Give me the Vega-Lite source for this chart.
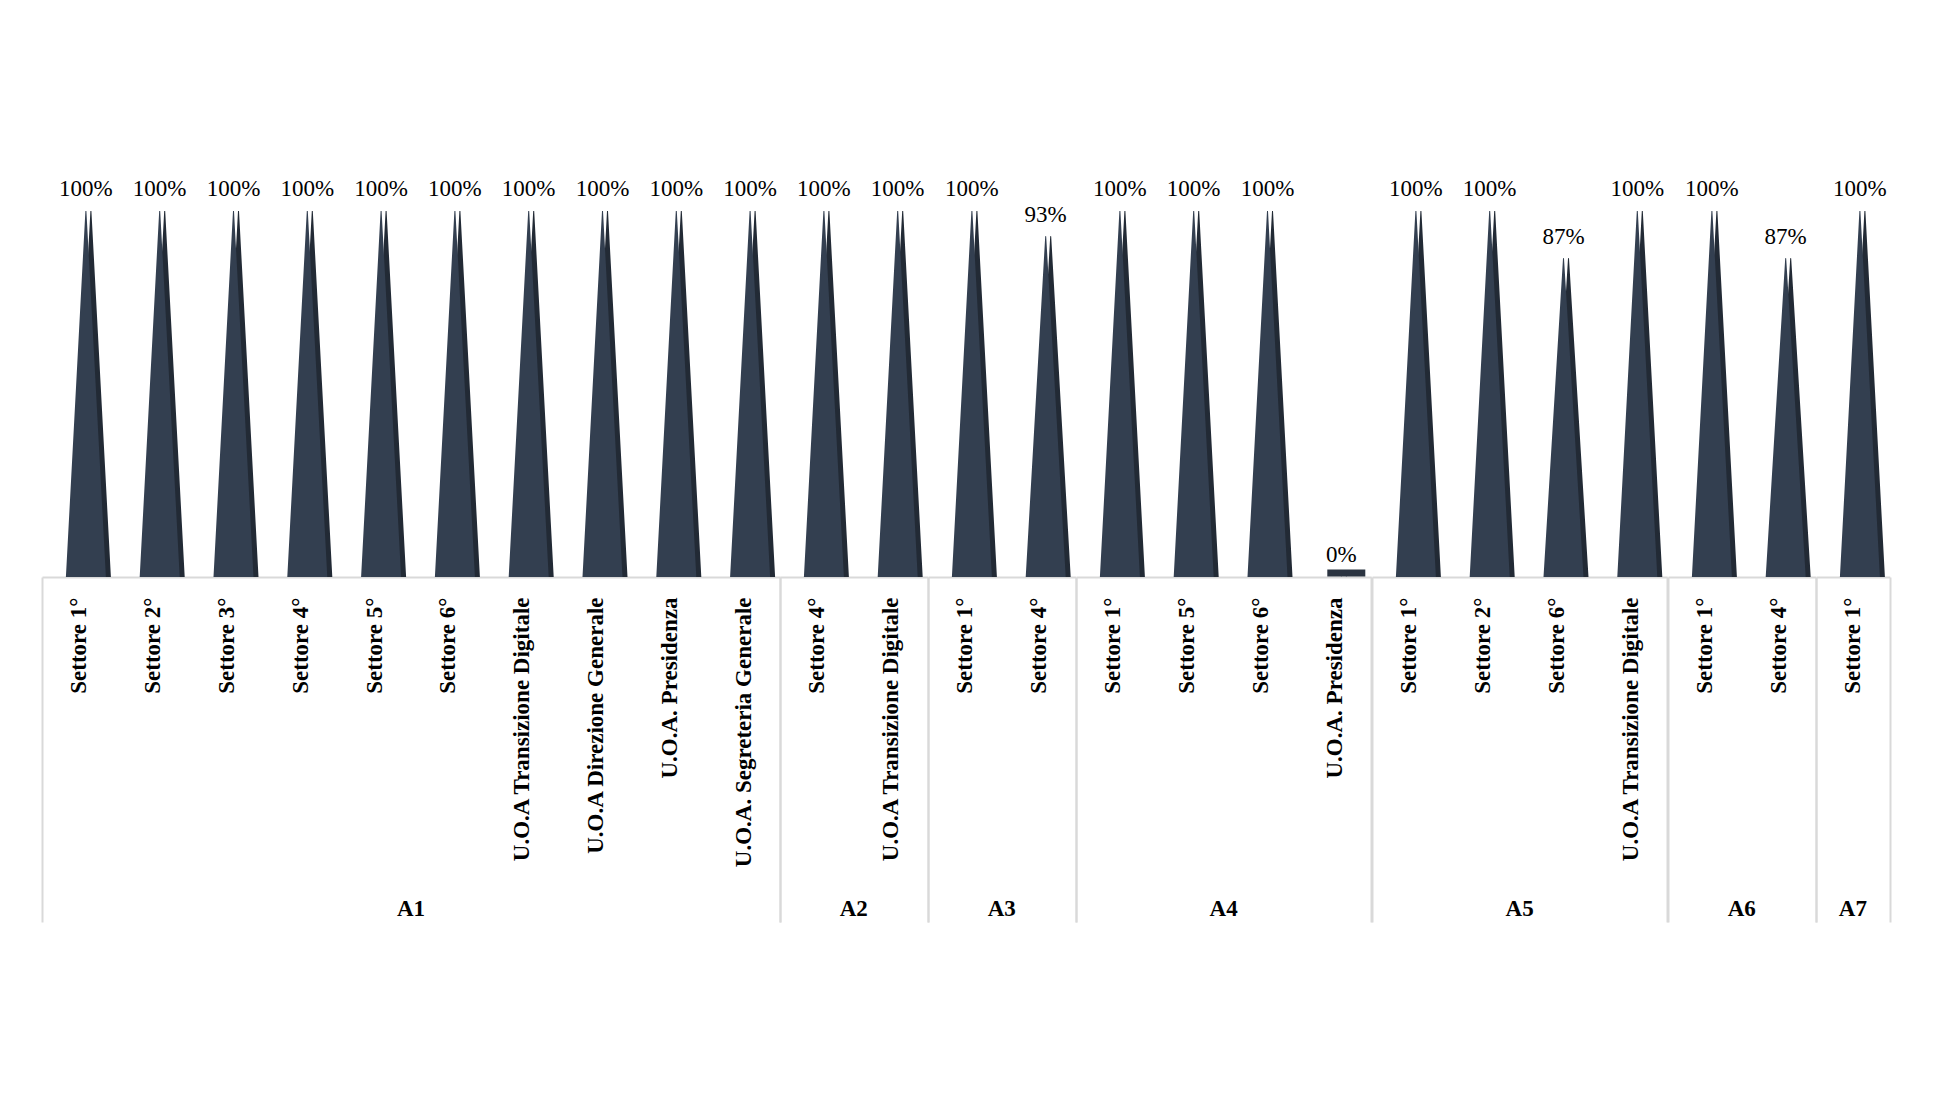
{
  "$schema": "https://vega.github.io/schema/vega-lite/v6.json",
  "background": "white",
  "padding": {"left": 31, "top": 178, "right": 10, "bottom": 10},
  "bounds": "flush",
  "spacing": 0,
  "data": {"values": [
    {"area": "A1", "unit": "Settore 1°", "value": 1},
    {"area": "A1", "unit": "Settore 2°", "value": 1},
    {"area": "A1", "unit": "Settore 3°", "value": 1},
    {"area": "A1", "unit": "Settore 4°", "value": 1},
    {"area": "A1", "unit": "Settore 5°", "value": 1},
    {"area": "A1", "unit": "Settore 6°", "value": 1},
    {"area": "A1", "unit": "U.O.A  Transizione Digitale", "value": 1},
    {"area": "A1", "unit": "U.O.A Direzione Generale", "value": 1},
    {"area": "A1", "unit": "U.O.A. Presidenza", "value": 1},
    {"area": "A1", "unit": "U.O.A. Segreteria Generale", "value": 1},
    {"area": "A2", "unit": "Settore 4°", "value": 1},
    {"area": "A2", "unit": "U.O.A  Transizione Digitale", "value": 1},
    {"area": "A3", "unit": "Settore 1°", "value": 1},
    {"area": "A3", "unit": "Settore 4°", "value": 0.93},
    {"area": "A4", "unit": "Settore 1°", "value": 1},
    {"area": "A4", "unit": "Settore 5°", "value": 1},
    {"area": "A4", "unit": "Settore 6°", "value": 1},
    {"area": "A4", "unit": "U.O.A. Presidenza", "value": 0},
    {"area": "A5", "unit": "Settore 1°", "value": 1},
    {"area": "A5", "unit": "Settore 2°", "value": 1},
    {"area": "A5", "unit": "Settore 6°", "value": 0.87},
    {"area": "A5", "unit": "U.O.A  Transizione Digitale", "value": 1},
    {"area": "A6", "unit": "Settore 1°", "value": 1},
    {"area": "A6", "unit": "Settore 4°", "value": 0.87},
    {"area": "A7", "unit": "Settore 1°", "value": 1}
  ]},
  "transform": [
    {"joinaggregate": [{"op": "min", "field": "value", "as": "base"}]}
  ],
  "facet": {
    "column": {
      "field": "area", "type": "nominal", "title": null,
      "header": {
        "labelOrient": "bottom",
        "labelAngle": 0,
        "labelAlign": "center",
        "labelAnchor": "middle",
        "labelBaseline": "middle",
        "labelFont": "Liberation Serif",
        "labelFontWeight": "bold",
        "labelFontSize": 23,
        "labelColor": "black",
        "labelPadding": 332
      }
    }
  },
  "resolve": {"scale": {"x": "independent"}, "axis": {"x": "independent"}},
  "spec": {
    "width": {"step": 73.8},
    "height": 366,
    "encoding": {
      "x": {
        "field": "unit", "type": "nominal",
        "scale": {"paddingInner": 0, "paddingOuter": 0},
        "axis": {
          "title": null,
          "tickBand": "extent",
          "tickSize": 345,
          "tickWidth": 2,
          "tickColor": "#d9d9d9",
          "tickOpacity": {"condition": {"test": "datum.index < 0 || datum.index == 1 || length(domain('child_x')) == 1", "value": 1}, "value": 0},
          "domainColor": "#d9d9d9",
          "domainWidth": 2,
          "labelAngle": -90,
          "labelAlign": "right",
          "labelBaseline": "middle",
          "labelFont": "Liberation Serif",
          "labelFontWeight": "bold",
          "labelFontSize": 23,
          "labelColor": "black",
          "labelPadding": -325,
          "labelLimit": 400
        }
      }
    },
    "layer": [
      {
        "transform": [{"fold": ["base", "value"], "as": ["part", "level"]}],
        "mark": {"type": "trail", "clip": true, "xOffset": 12, "color": "#222a35", "opacity": 1},
        "encoding": {
          "y": {"field": "level", "type": "quantitative", "scale": {"domain": [0, 1]}, "axis": null},
          "size": {"field": "part", "type": "ordinal", "scale": {"type": "ordinal", "domain": ["base", "value"], "range": [40, 0]}, "legend": null},
          "detail": {"field": "unit"}
        }
      },
      {
        "transform": [{"fold": ["base", "value"], "as": ["part", "level"]}],
        "mark": {"type": "trail", "clip": true, "xOffset": 7, "color": "#333f50", "opacity": 1},
        "encoding": {
          "y": {"field": "level", "type": "quantitative", "scale": {"domain": [0, 1]}, "axis": null},
          "size": {"field": "part", "type": "ordinal", "scale": {"type": "ordinal", "domain": ["base", "value"], "range": [30, 0]}, "legend": null},
          "detail": {"field": "unit"}
        }
      },
      {
        "transform": [{"filter": "datum.value == 0"}],
        "mark": {"type": "tick", "color": "#2b3441", "opacity": 1, "thickness": 7, "size": 38, "xOffset": 12, "yOffset": -4},
        "encoding": {
          "y": {"field": "value", "type": "quantitative", "scale": {"domain": [0, 1]}, "axis": null}
        }
      },
      {
        "mark": {"type": "text", "font": "Liberation Serif", "fontSize": 23, "color": "black", "baseline": "middle", "dy": -22, "xOffset": 7},
        "encoding": {
          "y": {"field": "value", "type": "quantitative", "scale": {"domain": [0, 1]}, "axis": null},
          "text": {"field": "value", "type": "quantitative", "format": ".0%"}
        }
      }
    ]
  },
  "config": {"view": {"stroke": null}}
}
